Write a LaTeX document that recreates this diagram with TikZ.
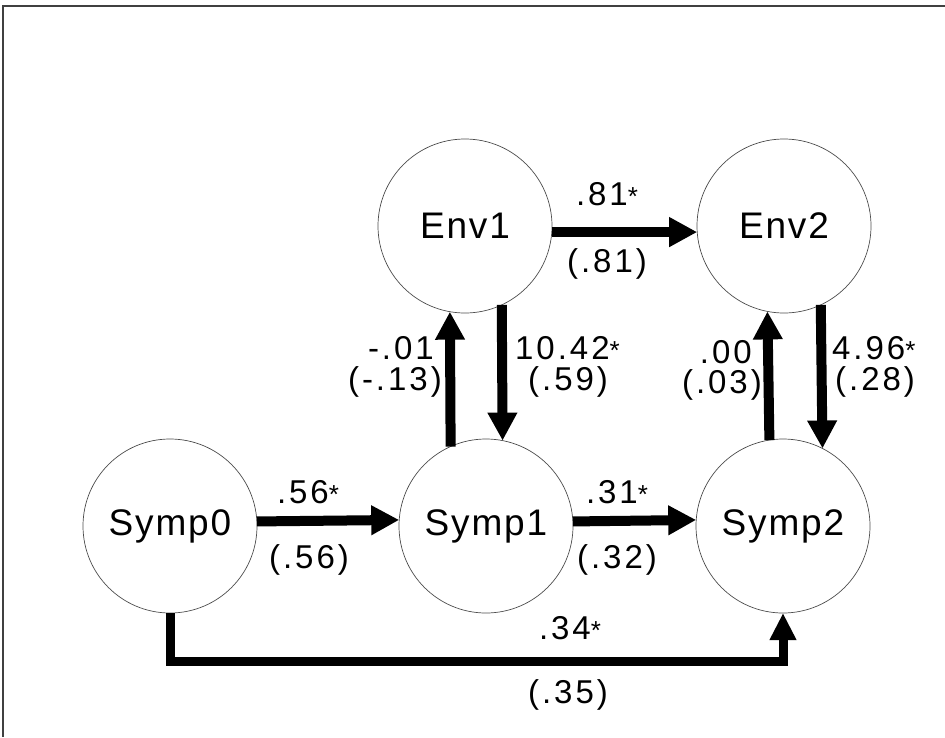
\documentclass[tikz,border=0pt]{standalone}
\usepackage{fontspec}
\setmainfont{Liberation Sans}
\newfontfamily\nodefont[LetterSpace=5]{Liberation Sans}
\newfontfamily\coeffont[LetterSpace=9]{Liberation Sans}
\newcommand{\sigstar}{{\fontsize{26}{28}\selectfont *}}
\usetikzlibrary{arrows.meta}
\begin{document}
\begin{tikzpicture}[x=1pt,y=-1pt,
  latent/.style={circle, draw=black!70, line width=0.7pt, minimum size=174pt,
    inner sep=0pt, outer sep=0pt, font=\nodefont\fontsize{37}{42}\selectfont},
  effect/.style={line width=10pt, -{Triangle[length=28pt,width=28pt]}},
  longeffect/.style={line width=9pt, line join=miter,
    -{Triangle[length=27pt,width=25pt]}},
  coef/.style={font=\coeffont\fontsize{33}{36}\selectfont, inner sep=0pt}]
\useasboundingbox (0,0) rectangle (945,737);
% frame
\draw[line width=1.4pt, black!75] (945,6) -- (3,6) -- (3,737);

% latent variables
\node[latent] (Env1)  at (465,226) {Env1};
\node[latent] (Env2)  at (784,226) {Env2};
\node[latent] (Symp0) at (170,526) {Symp0};
\node[latent] (Symp1) at (486,526) {Symp1};
\node[latent] (Symp2) at (783,526) {Symp2};

% paths
\draw[effect] (Env1.-4) -- (Env2.184);
\draw[effect] (Symp0.3.3) -- (Symp1.176.7);
\draw[effect] (Symp1.3.3) -- (Symp2.176.7);
\draw[effect] (Symp1.114.44) -- (Env1.260.07);
\draw[effect] (Env1.295.2) -- (Symp1.79.4);
\draw[effect] (Symp2.99.93) -- (Env2.259.4);
\draw[effect] (Env2.295.9) -- (Symp2.63.4);
\draw[longeffect] (Symp0.south) -- ++(0,48) -| (Symp2.south);

% coefficients
\node[coef] (c1a) at (607,194) {.81\sigstar};
\node[coef] (c1b) at (607,264) {(.81)};
\node[coef] (c2a) at (308,492) {.56\sigstar};
\node[coef] (c2b) at (309,560) {(.56)};
\node[coef] (c3a) at (617,492) {.31\sigstar};
\node[coef] (c3b) at (617,560) {(.32)};
\node[coef] (c4a) at (570,628) {.34\sigstar};
\node[coef] (c4b) at (568,695) {(.35)};
\node[coef, anchor=east] (c5a) at (434,348) {-.01};
\node[coef, anchor=east] (c5b) at (442,382) {(-.13)};
\node[coef, anchor=west] (c6a) at (515,348) {10.42\sigstar};
\node[coef, anchor=west] (c6b) at (528,382) {(.59)};
\node[coef, anchor=east] (c7a) at (752,352) {.00};
\node[coef, anchor=east] (c7b) at (762,385) {(.03)};
\node[coef, anchor=west] (c8a) at (832,348) {4.96\sigstar};
\node[coef, anchor=west] (c8b) at (835,382) {(.28)};
\end{tikzpicture}
\end{document}
